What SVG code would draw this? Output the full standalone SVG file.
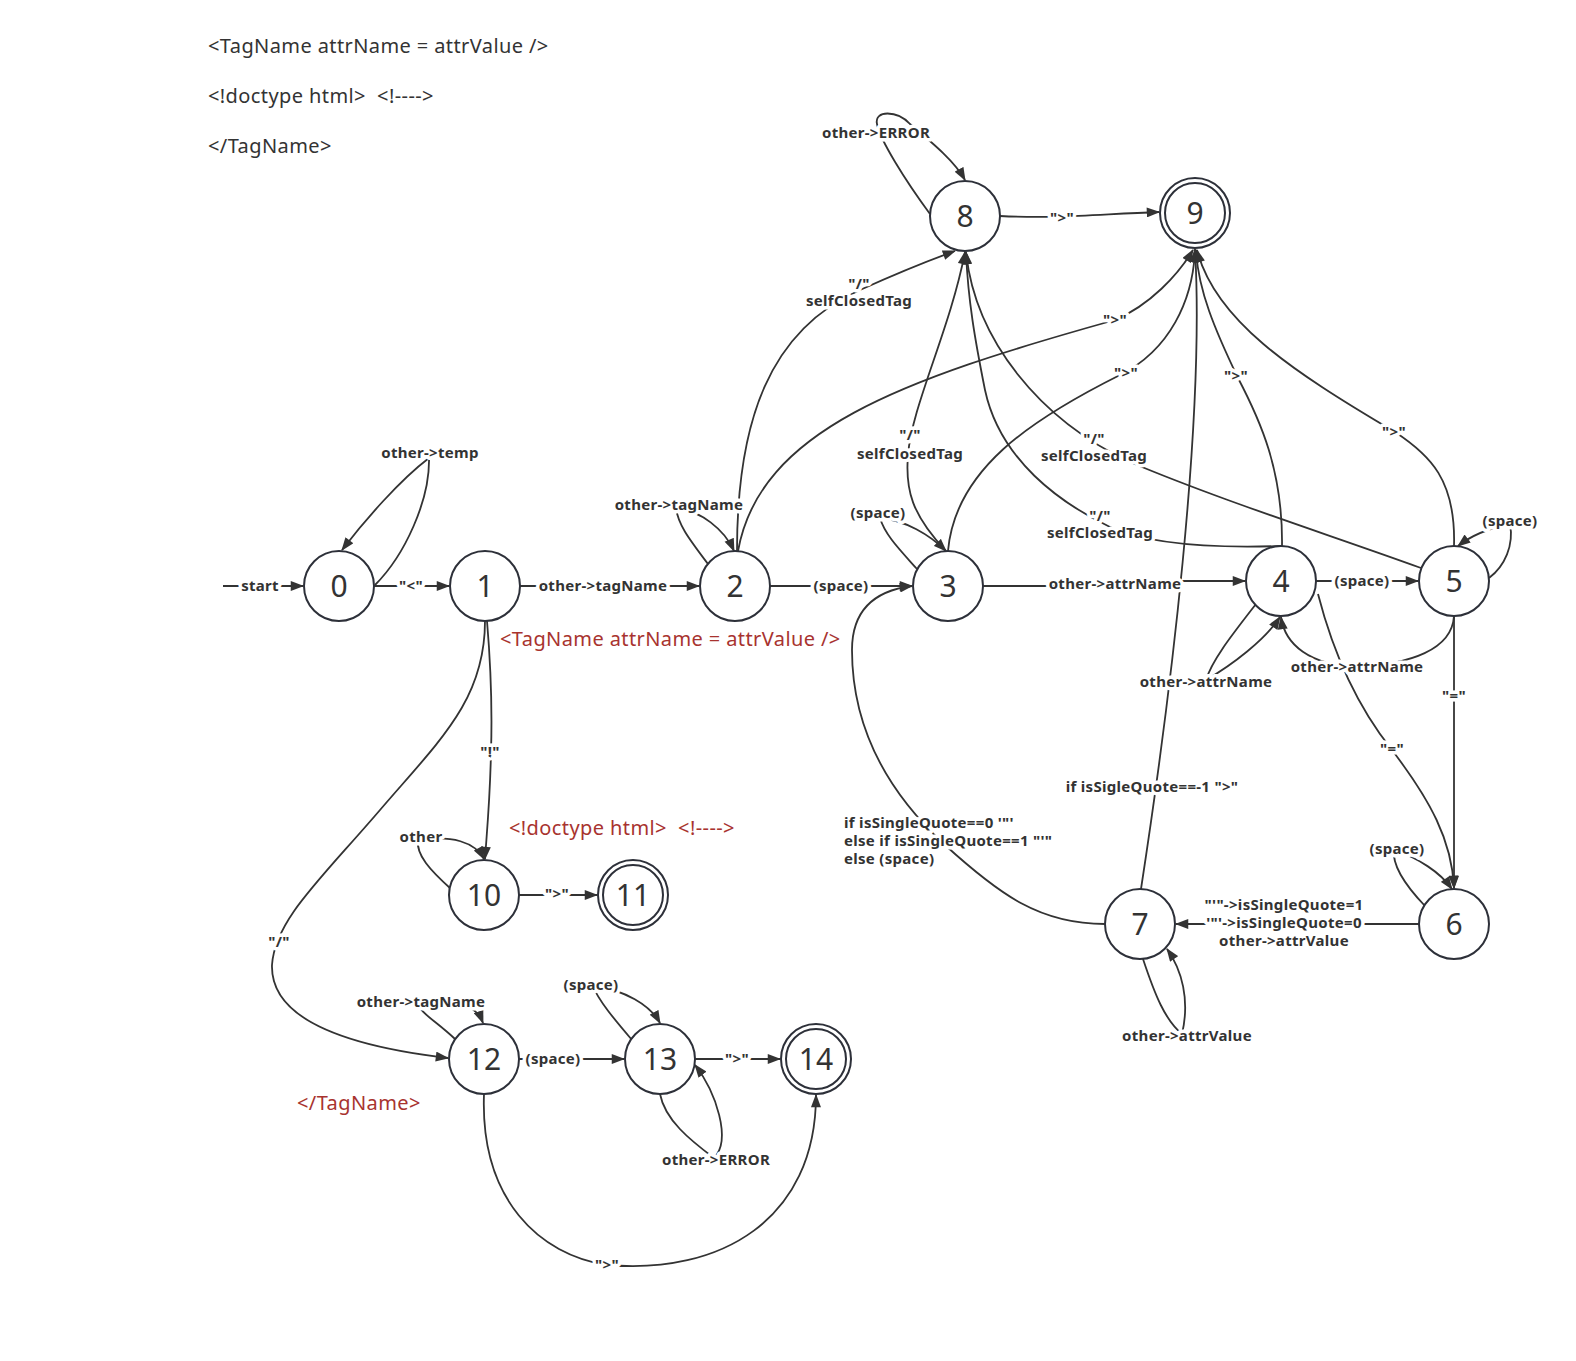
<svg xmlns="http://www.w3.org/2000/svg" width="1576" height="1361" viewBox="0 0 1576 1361">
<style>
.e{fill:none;stroke:#333;stroke-width:1.8}
.a{marker-end:url(#ah)}
.n{fill:#fff;stroke:#2d3039;stroke-width:2}
.nt{font-family:"Noto Sans","Open Sans",sans-serif;font-size:30px;fill:#333;text-anchor:middle}
.l{font-family:"Noto Sans","Open Sans",sans-serif;font-size:15px;letter-spacing:0.3px;font-weight:bold;fill:#333;text-anchor:middle;stroke:#fff;stroke-width:7;stroke-linejoin:round;paint-order:stroke}
.ll{text-anchor:start}
.t{font-family:"Noto Sans","Open Sans",sans-serif;font-size:20px;letter-spacing:0.4px;fill:#333}
.r{font-family:"Noto Sans","Open Sans",sans-serif;font-size:20px;letter-spacing:0.4px;fill:#a8332f}
</style>
<defs>
<marker id="ah" markerUnits="userSpaceOnUse" markerWidth="14" markerHeight="10" viewBox="0 0 12 9" refX="11" refY="4.5" orient="auto">
<path d="M0,0 L12,4.5 L0,9 z" fill="#333"/>
</marker>
</defs>
<rect width="1576" height="1361" fill="#fff"/>
<g id="notes">
<text class="t" x="208" y="53">&lt;TagName attrName = attrValue /&gt;</text>
<text class="t" x="208" y="103">&lt;!doctype html&gt;&#160; &lt;!----&gt;</text>
<text class="t" x="208" y="153">&lt;/TagName&gt;</text>
<text class="r" x="500" y="646">&lt;TagName attrName = attrValue /&gt;</text>
<text class="r" x="509" y="835">&lt;!doctype html&gt;&#160; &lt;!----&gt;</text>
<text class="r" x="297" y="1110">&lt;/TagName&gt;</text>
</g>
<g id="connectors">
<path class="e a" d="M223,586 L303,586"/>
<path class="e a" d="M375,585 C405,555 430,500 429,458 C400,480 365,520 342,550"/>
<path class="e a" d="M374,586 L449,586"/>
<path class="e a" d="M520,586 L699,586"/>
<path class="e a" d="M708,564 C690,540 678,525 676,508 C700,510 725,530 734,551"/>
<path class="e a" d="M770,586 L912,586"/>
<path class="e a" d="M917,569 C900,550 885,535 880,518 C905,520 930,535 946,551"/>
<path class="e a" d="M983,586 L1165,586 L1180,581 L1245,581"/>
<path class="e a" d="M1316,581 L1418,581"/>
<path class="e a" d="M1489,578 C1505,566 1514,545 1510,524 C1490,528 1472,535 1458,546"/>
<path class="e a" d="M1256,604 C1232,635 1212,660 1206,680 C1232,665 1265,640 1280,617"/>
<path class="e a" d="M1454,616 C1452,650 1410,664 1357,667 C1310,665 1285,645 1281,617"/>
<path class="e a" d="M1318,594 C1335,660 1360,710 1392,750 C1430,800 1452,840 1454,888"/>
<path class="e a" d="M1454,616 L1454,888"/>
<path class="e a" d="M1425,906 C1405,885 1392,866 1394,850 C1418,858 1440,872 1452,889"/>
<path class="e a" d="M1419,924 L1176,924"/>
<path class="e a" d="M1143,959 C1155,995 1165,1020 1182,1034 C1190,1000 1182,970 1167,949"/>
<path class="e a" d="M1141,889 C1170,700 1205,420 1195,249"/>
<path class="e a" d="M1105,924 C1040,924 1000,895 945,845 C880,785 852,720 852,650 C852,605 880,590 912,586"/>
<path class="e a" d="M930,214 C905,180 880,140 877,124 C874,110 897,110 910,124 C935,145 955,162 965,180"/>
<path class="e a" d="M1000,216 C1060,219 1100,214 1159,212"/>
<path class="e a" d="M737,551 C737,420 770,330 860,290 C900,272 930,260 955,251"/>
<path class="e a" d="M946,551 C912,515 905,490 908,455 C912,405 950,330 965,252"/>
<path class="e a" d="M1281,546 C1220,548 1150,545 1110,527 C1060,503 1000,460 985,390 C975,340 968,300 966,252"/>
<path class="e a" d="M1421,568 C1330,535 1220,500 1130,462 C1040,420 975,340 966,252"/>
<path class="e a" d="M738,551 C760,430 900,380 1115,320 C1150,305 1178,275 1193,250"/>
<path class="e a" d="M948,551 C955,470 1030,420 1120,375 C1170,350 1193,300 1195,250"/>
<path class="e a" d="M1282,546 C1283,470 1260,420 1238,378 C1215,330 1198,290 1196,250"/>
<path class="e a" d="M1454,546 C1456,480 1430,455 1395,432 C1290,370 1215,320 1197,250"/>
<path class="e a" d="M487,621 C492,680 492,720 491,752 C490,800 487,830 485,859"/>
<path class="e a" d="M451,889 C430,870 416,855 418,840 C452,835 475,842 484,859"/>
<path class="e a" d="M519,895 L597,895"/>
<path class="e a" d="M485,621 C485,700 440,740 380,810 C320,880 275,920 272,965 C270,1030 380,1050 448,1058"/>
<path class="e a" d="M455,1039 C435,1020 418,1012 418,1002 C452,998 475,1002 483,1023"/>
<path class="e a" d="M519,1059 L624,1059"/>
<path class="e a" d="M632,1040 C615,1020 598,1000 593,986 C625,990 650,1005 660,1023"/>
<path class="e a" d="M660,1094 C665,1120 690,1140 714,1158 C732,1140 716,1092 695,1065"/>
<path class="e a" d="M695,1059 L780,1059"/>
<path class="e a" d="M484,1094 C480,1200 540,1255 607,1265 C720,1275 816,1220 816,1095"/>
<g id="labels">
<text class="l" x="260" y="591">start</text>
<text class="l" x="411" y="591">"&lt;"</text>
<text class="l" x="430" y="458">other-&gt;temp</text>
<text class="l" x="603" y="591">other-&gt;tagName</text>
<text class="l" x="679" y="510">other-&gt;tagName</text>
<text class="l" x="841" y="591">(space)</text>
<text class="l" x="878" y="518">(space)</text>
<text class="l" x="1115" y="589">other-&gt;attrName</text>
<text class="l" x="1362" y="586">(space)</text>
<text class="l" x="1510" y="526">(space)</text>
<text class="l" x="1206" y="687">other-&gt;attrName</text>
<text class="l" x="1357" y="672">other-&gt;attrName</text>
<text class="l" x="1392" y="754">"="</text>
<text class="l" x="1454" y="701">"="</text>
<text class="l" x="1397" y="854">(space)</text>
<text class="l" x="1284" y="910">"'"-&gt;isSingleQuote=1</text>
<text class="l" x="1284" y="928">'"'-&gt;isSingleQuote=0</text>
<text class="l" x="1284" y="946">other-&gt;attrValue</text>
<text class="l" x="1187" y="1041">other-&gt;attrValue</text>
<text class="l" x="1152" y="792">if isSigleQuote==-1 "&gt;"</text>
<text class="l ll" x="844" y="828">if isSingleQuote==0 '"'</text>
<text class="l ll" x="844" y="846">else if isSingleQuote==1 "'"</text>
<text class="l ll" x="844" y="864">else (space)</text>
<text class="l" x="876" y="138">other-&gt;ERROR</text>
<text class="l" x="1062" y="223">"&gt;"</text>
<text class="l" x="859" y="289">"/"</text>
<text class="l" x="859" y="306">selfClosedTag</text>
<text class="l" x="910" y="440">"/"</text>
<text class="l" x="910" y="459">selfClosedTag</text>
<text class="l" x="1094" y="444">"/"</text>
<text class="l" x="1094" y="461">selfClosedTag</text>
<text class="l" x="1100" y="521">"/"</text>
<text class="l" x="1100" y="538">selfClosedTag</text>
<text class="l" x="1115" y="325">"&gt;"</text>
<text class="l" x="1126" y="378">"&gt;"</text>
<text class="l" x="1236" y="381">"&gt;"</text>
<text class="l" x="1394" y="437">"&gt;"</text>
<text class="l" x="490" y="757">"!"</text>
<text class="l" x="421" y="842">other</text>
<text class="l" x="557" y="899">"&gt;"</text>
<text class="l" x="279" y="947">"/"</text>
<text class="l" x="421" y="1007">other-&gt;tagName</text>
<text class="l" x="553" y="1064">(space)</text>
<text class="l" x="591" y="990">(space)</text>
<text class="l" x="716" y="1165">other-&gt;ERROR</text>
<text class="l" x="737" y="1064">"&gt;"</text>
<text class="l" x="607" y="1270">"&gt;"</text>
</g>
</g>
<g id="n0"><circle class="n" cx="339" cy="586" r="35"/><text class="nt" x="339" y="597">0</text></g>
<g id="n1"><circle class="n" cx="485" cy="586" r="35"/><text class="nt" x="485" y="597">1</text></g>
<g id="n2"><circle class="n" cx="735" cy="586" r="35"/><text class="nt" x="735" y="597">2</text></g>
<g id="n3"><circle class="n" cx="948" cy="586" r="35"/><text class="nt" x="948" y="597">3</text></g>
<g id="n4"><circle class="n" cx="1281" cy="581" r="35"/><text class="nt" x="1281" y="592">4</text></g>
<g id="n5"><circle class="n" cx="1454" cy="581" r="35"/><text class="nt" x="1454" y="592">5</text></g>
<g id="n6"><circle class="n" cx="1454" cy="924" r="35"/><text class="nt" x="1454" y="935">6</text></g>
<g id="n7"><circle class="n" cx="1140" cy="924" r="35"/><text class="nt" x="1140" y="935">7</text></g>
<g id="n8"><circle class="n" cx="965" cy="216" r="35"/><text class="nt" x="965" y="227">8</text></g>
<g id="n9"><circle class="n" cx="1195" cy="213" r="35"/><circle class="n" cx="1195" cy="213" r="30"/><text class="nt" x="1195" y="224">9</text></g>
<g id="n10"><circle class="n" cx="484" cy="895" r="35"/><text class="nt" x="484" y="906">10</text></g>
<g id="n11"><circle class="n" cx="633" cy="895" r="35"/><circle class="n" cx="633" cy="895" r="30"/><text class="nt" x="633" y="906">11</text></g>
<g id="n12"><circle class="n" cx="484" cy="1059" r="35"/><text class="nt" x="484" y="1070">12</text></g>
<g id="n13"><circle class="n" cx="660" cy="1059" r="35"/><text class="nt" x="660" y="1070">13</text></g>
<g id="n14"><circle class="n" cx="816" cy="1059" r="35"/><circle class="n" cx="816" cy="1059" r="30"/><text class="nt" x="816" y="1070">14</text></g>
</svg>
